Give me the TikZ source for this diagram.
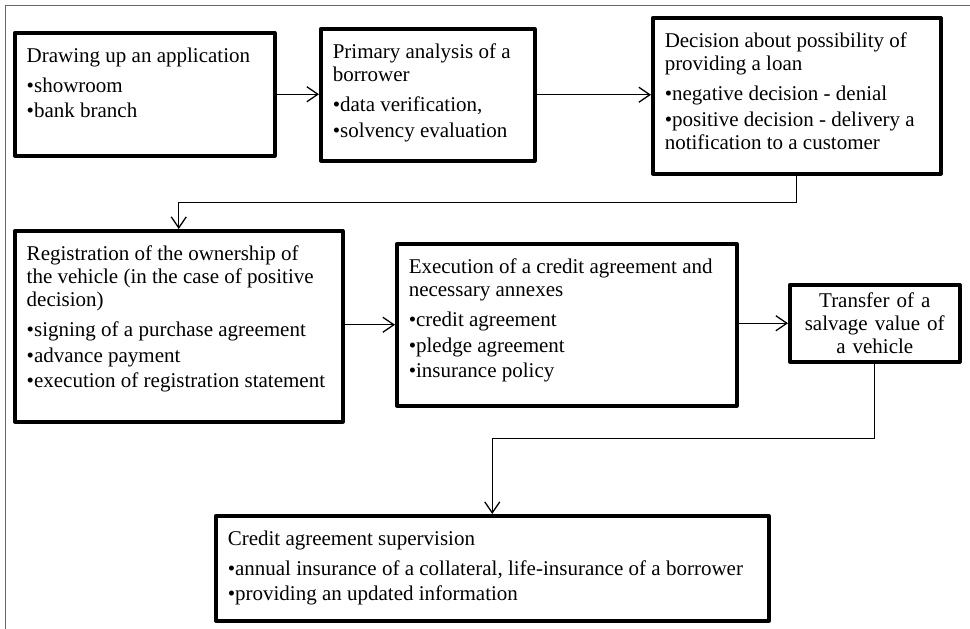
\documentclass[tikz,border=0pt]{standalone}
\usepackage{fontspec}
\setmainfont{Liberation Serif}
\usetikzlibrary{arrows.meta}

\newlength\bulletwd
\newcommand{\itm}{\par\vspace{2.5pt}\settowidth{\bulletwd}{\textbullet}%
  \hangindent=\bulletwd\hangafter=1\noindent\textbullet}
\newcommand{\stagetext}[3]{\parbox[t][#2pt][t]{#1pt}{\raggedright #3}}

\begin{document}
\begin{tikzpicture}[x=1pt,y=-1pt,font=\fontsize{21}{23}\selectfont,
  stage/.style={draw, line width=3.5pt, line join=round, anchor=north west, inner xsep=12pt, inner ysep=15pt},
  flow/.style={line width=1.3pt, -{Straight Barb[length=11pt,width=15pt]}}]
\useasboundingbox (0,0) rectangle (970,629);
\draw[black!60, line width=1pt] (5,629) -- (5,5) -- (970,5);

\node[stage] (apply) at (13,31) {\stagetext{236}{93}{Drawing up an application\par\vspace{4.5pt}%
  \itm showroom \itm bank branch}};
\node[stage] (analysis) at (319,27) {\stagetext{190}{102}{Primary analysis of a\\ borrower\par\vspace{4.5pt}%
  \itm data verification, \itm solvency evaluation}};
\node[stage] (decision) at (651,16) {\stagetext{264}{126}{Decision about possibility of\\ providing a loan\par\vspace{4.5pt}%
  \itm negative decision - denial \itm positive decision - delivery a\\ notification to a customer}};
\node[stage] (register) at (13,229) {\stagetext{304}{161}{Registration of the ownership of\\ the vehicle (in the case of positive\\ decision)\par\vspace{4.5pt}%
  \itm signing of a purchase agreement \itm advance payment \itm execution of registration statement}};
\node[stage] (execution) at (395,242) {\stagetext{316}{132}{Execution of a credit agreement and\\ necessary annexes\par\vspace{4.5pt}%
  \itm credit agreement \itm pledge agreement \itm insurance policy}};
\node[stage, align=center, text width=150pt, inner xsep=10pt, inner ysep=0pt, minimum height=77pt] (transfer) at (788,283)
  {Transfer of a\\ salvage value of\\ a vehicle};
\node[stage] (supervision) at (214,514) {\stagetext{529}{75}{Credit agreement supervision\par\vspace{4.5pt}%
  \itm annual insurance of a collateral, life-insurance of a borrower \itm providing an updated information}};

\draw[flow] (apply.east) -- (apply.east -| analysis.west);
\draw[flow] (analysis.east) -- (analysis.east -| decision.west);
\draw[flow] (decision.south) -- ++(0,27) -| (register.north);
\draw[flow] (execution.west -| register.east) -- (execution.west);
\draw[flow] (transfer.west -| execution.east) -- (transfer.west);
\draw[flow] (transfer.south) -- ++(0,75) -| (supervision.north);
\end{tikzpicture}
\end{document}
